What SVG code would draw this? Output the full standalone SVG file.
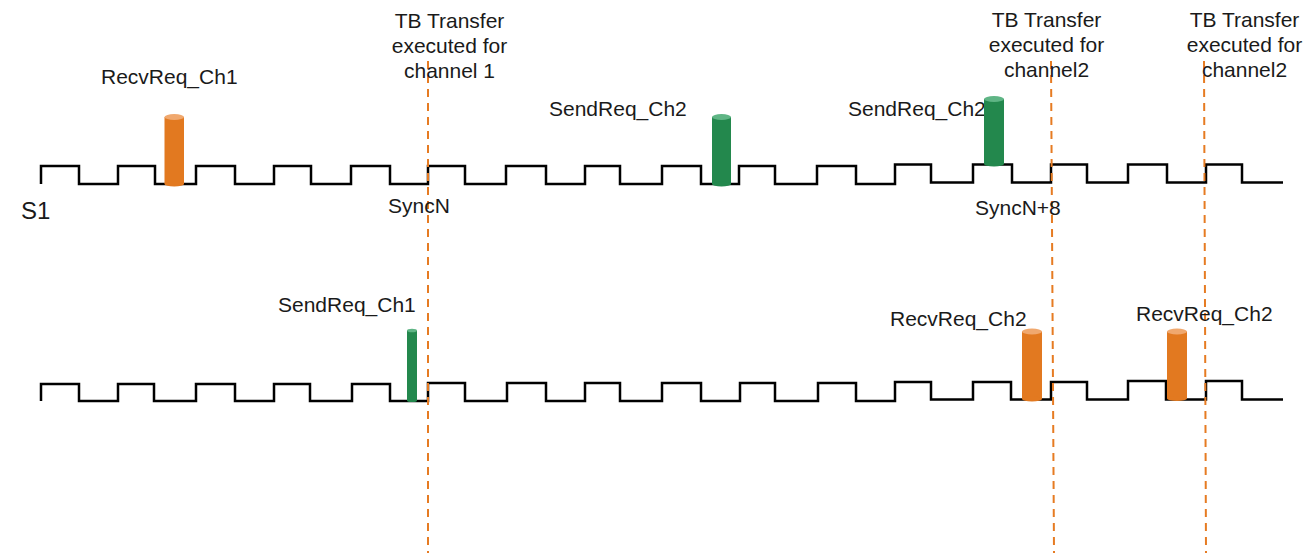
<svg xmlns="http://www.w3.org/2000/svg" width="1308" height="553" viewBox="0 0 1308 553">
<style>
text{font-family:"Liberation Sans",Arial,sans-serif;font-size:21px;fill:#1a1a1a}
.c{text-anchor:middle}
.wave{fill:none;stroke:#000;stroke-width:2.5;stroke-linejoin:miter}
.dash{stroke:#E67B22;stroke-width:2;stroke-dasharray:8 6}
.ob{fill:#E27920}
.ot{fill:#F0A86E}
.gb{fill:#23884D}
.gt{fill:#5FB585}
</style>
<rect width="1308" height="553" fill="#fff"/>
<g id="connectors">
<path id="wave-top" class="wave" d="M41,184 V166 H79 V184 H118 V166 H155 V184 H196 V166 H235 V184 H274 V166 H311 V184 H351 V166 H390 V184 H428 V166 H465 V184 H506 V166 H546 V184 H585 V166 H620 V184 H662 V166 H701 V184 H739 V166 H775 V184 H817 V166 H856 V184 H895 V164.5 H931 V182.5 H973 V164.5 H1012 V182.5 H1051 V164.5 H1087 V182.5 H1128 V164.5 H1167 V182.5 H1206 V164.5 H1242 V182.5 H1283"/>
<path id="wave-bottom" class="wave" d="M41,401 V384 H79 V401 H118 V384 H154 V401 H196 V384 H235 V401 H274 V384 H310 V401 H352 V384 H390 V401 H428 V383 H465 V401 H507 V383 H546 V401 H585 V383 H620 V401 H662 V383 H701 V401 H740 V383 H775 V401 H818 V383 H856 V401 H895 V382 H931 V399.5 H973 V382 H1011 V399.5 H1051 V382 H1087 V399.5 H1128 V381 H1166 V399.5 H1206 V381 H1242 V399.5 H1283"/>
<line class="dash" x1="428" y1="61" x2="428" y2="553"/>
<line class="dash" x1="1051" y1="61" x2="1054" y2="553"/>
<line class="dash" x1="1204" y1="61" x2="1206" y2="553"/>
</g>
<g id="label-s1"><text x="21" y="219" style="font-size:24px">S1</text></g>
<g id="tb1"><text class="c" x="449.5" y="28">TB Transfer</text><text class="c" x="449.5" y="53">executed for</text><text class="c" x="449.5" y="78">channel 1</text></g>
<g id="tb2"><text class="c" x="1046.5" y="27">TB Transfer</text><text class="c" x="1046.5" y="52">executed for</text><text class="c" x="1046.5" y="77">channel2</text></g>
<g id="tb3"><text class="c" x="1244.5" y="27">TB Transfer</text><text class="c" x="1244.5" y="52">executed for</text><text class="c" x="1244.5" y="77">channel2</text></g>
<g id="syncn"><text x="388" y="213">SyncN</text></g>
<g id="syncn8"><text x="975" y="215">SyncN+8</text></g>
<g id="recv-ch1">
<text x="101" y="84">RecvReq_Ch1</text>
<rect class="ob" x="164.5" y="117" width="19.5" height="67"/>
<ellipse class="ob" cx="174.25" cy="184" rx="9.75" ry="2.5"/>
<ellipse class="ot" cx="174.25" cy="117" rx="9.75" ry="3"/>
</g>
<g id="send-ch2-a">
<text x="549" y="116">SendReq_Ch2</text>
<rect class="gb" x="712" y="117" width="19" height="67"/>
<ellipse class="gb" cx="721.5" cy="184" rx="9.5" ry="2.5"/>
<ellipse class="gt" cx="721.5" cy="117" rx="9.5" ry="3"/>
</g>
<g id="send-ch2-b">
<text x="848" y="116">SendReq_Ch2</text>
<rect class="gb" x="984" y="99" width="20" height="65"/>
<ellipse class="gb" cx="994" cy="164" rx="10" ry="2.5"/>
<ellipse class="gt" cx="994" cy="99" rx="10" ry="3"/>
</g>
<g id="send-ch1">
<text x="278" y="312">SendReq_Ch1</text>
<rect class="gb" x="407" y="330.5" width="10" height="70"/>
<ellipse class="gb" cx="412" cy="400.5" rx="5" ry="1.5"/>
<ellipse class="gt" cx="412" cy="330.5" rx="5" ry="1.8"/>
</g>
<g id="recv-ch2-a">
<text x="890" y="326">RecvReq_Ch2</text>
<rect class="ob" x="1022" y="331.5" width="20" height="67.5"/>
<ellipse class="ob" cx="1032" cy="399" rx="10" ry="2.5"/>
<ellipse class="ot" cx="1032" cy="331.5" rx="10" ry="3"/>
</g>
<g id="recv-ch2-b">
<text x="1136" y="321">RecvReq_Ch2</text>
<rect class="ob" x="1167" y="331.5" width="20" height="67"/>
<ellipse class="ob" cx="1177" cy="398.5" rx="10" ry="2.5"/>
<ellipse class="ot" cx="1177" cy="331.5" rx="10" ry="3"/>
</g>
</svg>
